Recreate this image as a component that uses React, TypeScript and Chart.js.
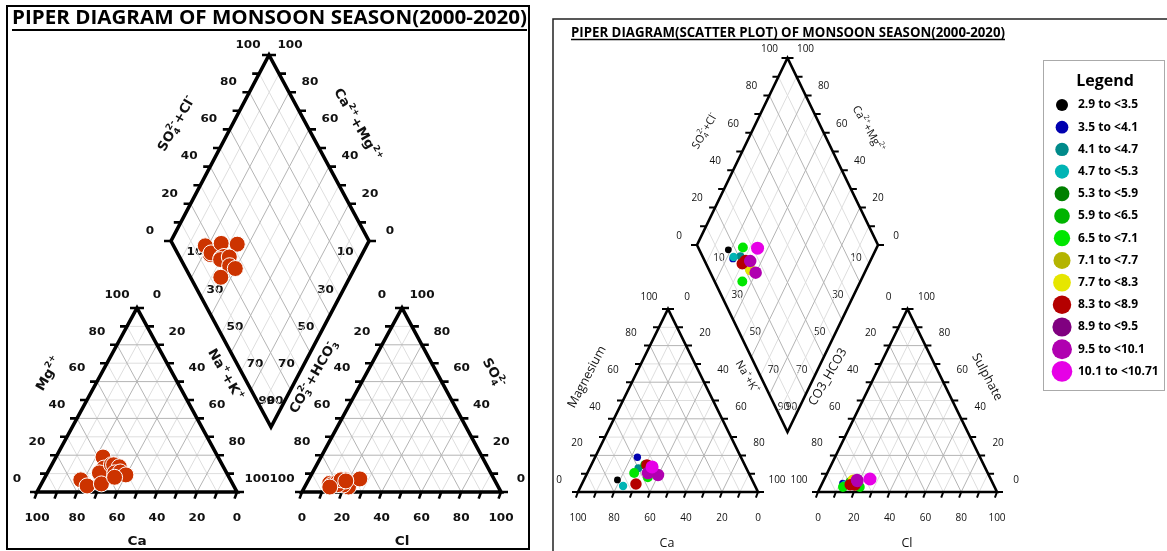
import React, { useEffect, useLayoutEffect, useRef } from "react";
import { Chart, registerables } from "chart.js";
Chart.register(...registerables);

const PAGE_W = 1167;
const PAGE_H = 551;

// ---------------- data ----------------
const legendLabels = [
  "2.9 to <3.5", "3.5 to <4.1", "4.1 to <4.7", "4.7 to <5.3", "5.3 to <5.9",
  "5.9 to <6.5", "6.5 to <7.1", "7.1 to <7.7", "7.7 to <8.3", "8.3 to <8.9",
  "8.9 to <9.5", "9.5 to <10.1", "10.1 to <10.71",
];
const legendColors = [
  "#000000", "#0000b0", "#008a8a", "#00b4b4", "#008000",
  "#00b400", "#00e600", "#b4b400", "#e6e600", "#b40000",
  "#800080", "#b000b0", "#e600e6",
];
// per-sample (% meq) values
const sampleCategory = [0, 1, 2, 3, 6, 5, 9, 9, 12, 11, 8, 11, 6];
const sampleCa = [74.8, 57.5, 60.0, 73.3, 63.6, 55.4, 54.3, 65.6, 52.0, 55.9, 52.9, 50.9, 57.2];
const sampleMg = [6.6, 19.0, 13.0, 3.3, 10.4, 14.8, 14.8, 4.4, 13.7, 10.4, 10.9, 9.3, 8.0];
const sampleCl = [12.0, 11.5, 16.0, 13.0, 22.0, 15.2, 18.8, 16.0, 25.5, 18.5, 16.3, 19.0, 12.6];
const sampleSO4 = [4.0, 4.7, 5.0, 4.0, 2.7, 5.5, 3.8, 4.0, 7.1, 6.6, 6.6, 6.0, 2.7];

const triTickValues = [0, 20, 40, 60, 80, 100];
const diamondEdgeTicks = [0, 20, 40, 60, 80, 100];
const diamondInnerTicks = [10, 30, 50, 70, 90];

const leftTitle = "PIPER DIAGRAM OF MONSOON SEASON(2000-2020)";
const rightTitle = "PIPER DIAGRAM(SCATTER PLOT) OF MONSOON SEASON(2000-2020)";
const legendTitle = "Legend";
const leftPointColor = "#cc3300";

// ---------------- text runs ----------------
type Run = string[];
const RUNS_SO4CL: Run[] = [["n", "SO"], ["ss", "4", "2-"], ["n", "+Cl"], ["sup", "-"]];
const RUNS_CAMG: Run[] = [["n", "Ca"], ["sup", "2+"], ["n", "+Mg"], ["sup", "2+"]];
const RUNS_NAK: Run[] = [["n", "Na"], ["sup", "+"], ["n", "+K"], ["sup", "+"]];
const RUNS_CO3: Run[] = [["n", "CO"], ["ss", "3", "2-"], ["n", "+HCO"], ["ss", "3", "-"]];
const RUNS_MG: Run[] = [["n", "Mg"], ["sup", "2+"]];
const RUNS_SO4: Run[] = [["n", "SO"], ["ss", "4", "2-"]];
const plain = (s: string): Run[] => [["n", s]];

type Pt = [number, number];
type Tri = { bl: Pt; br: Pt; top: Pt };
type Dia = { L: Pt; T: Pt; R: Pt };
type Font = { size: number; weight: string; family: string; sx: number; color: string };

interface Panel {
  cat: Tri;
  an: Tri;
  dia: Dia;
  borderW: number;
  tickW: number;
  tickLen: number;
  num: Font;
  axis: Font;
  axisSmall: Font;
  sideOff: Pt;
  bottomOff: number;
  diaOff: Pt;
  innerOff: Pt;
  titles: { runs: Run[]; x: number; y: number; ang: number; small?: boolean }[];
}

const LEFT: Panel = {
  cat: { bl: [37, 492], br: [237, 492], top: [137, 308] },
  an: { bl: [302, 492], br: [501, 492], top: [402, 308] },
  dia: { L: [171, 241], T: [269, 55], R: [369, 241] },
  borderW: 3.6,
  tickW: 2.6,
  tickLen: 7,
  num: { size: 10.5, weight: "bold", family: '"DejaVu Sans"', sx: 1.15, color: "#111" },
  axis: { size: 13, weight: "bold", family: '"DejaVu Sans"', sx: 1.05, color: "#111" },
  axisSmall: { size: 13, weight: "bold", family: '"DejaVu Sans"', sx: 1.05, color: "#111" },
  sideOff: [20, -13],
  bottomOff: 26,
  diaOff: [21, -10],
  innerOff: [14, -7],
  titles: [
    { runs: RUNS_SO4CL, x: 177, y: 124, ang: -60 },
    { runs: RUNS_CAMG, x: 357, y: 125, ang: 60 },
    { runs: RUNS_NAK, x: 225, y: 375, ang: 60 },
    { runs: RUNS_CO3, x: 314, y: 377, ang: -60 },
    { runs: RUNS_MG, x: 49, y: 374, ang: -60 },
    { runs: RUNS_SO4, x: 493, y: 373, ang: 60 },
    { runs: plain("Ca"), x: 137, y: 542, ang: 0 },
    { runs: plain("Cl"), x: 402, y: 542, ang: 0 },
  ],
};

const RIGHT: Panel = {
  cat: { bl: [578, 492], br: [758, 492], top: [668, 309] },
  an: { bl: [818, 492], br: [997, 492], top: [907.5, 309] },
  dia: { L: [697, 245], T: [787.5, 58], R: [878, 245] },
  borderW: 2.6,
  tickW: 2,
  tickLen: 6,
  num: { size: 10, weight: "normal", family: '"Open Sans"', sx: 1, color: "#111" },
  axis: { size: 12.5, weight: "normal", family: '"Open Sans"', sx: 1, color: "#111" },
  axisSmall: { size: 11, weight: "normal", family: '"Open Sans"', sx: 1, color: "#111" },
  sideOff: [19, -12],
  bottomOff: 26,
  diaOff: [18, -9],
  innerOff: [13, -6],
  titles: [
    { runs: RUNS_SO4CL, x: 705, y: 131, ang: -60, small: true },
    { runs: RUNS_CAMG, x: 868, y: 129, ang: 60, small: true },
    { runs: RUNS_NAK, x: 747, y: 377, ang: 60, small: true },
    { runs: plain("CO3_HCO3"), x: 828, y: 377, ang: -60 },
    { runs: plain("Magnesium"), x: 587, y: 377, ang: -62 },
    { runs: plain("Sulphate"), x: 987, y: 377, ang: 62 },
    { runs: plain("Ca"), x: 667, y: 543, ang: 0 },
    { runs: plain("Cl"), x: 907, y: 543, ang: 0 },
  ],
};

// ---------------- geometry ----------------
const tern = (t: Tri, wBL: number, wBR: number, wTop: number): Pt => [
  (t.bl[0] * wBL + t.br[0] * wBR + t.top[0] * wTop) / 100,
  (t.bl[1] * wBL + t.br[1] * wBR + t.top[1] * wTop) / 100,
];
const diaPt = (d: Dia, u: number, w: number): Pt => [
  d.L[0] + u * (d.T[0] - d.L[0]) + w * (d.R[0] - d.T[0]),
  d.L[1] + u * (d.T[1] - d.L[1]) + w * (d.R[1] - d.T[1]),
];
const diaB = (d: Dia): Pt => [d.L[0] + d.R[0] - d.T[0], d.L[1] + d.R[1] - d.T[1]];

type XY = { x: number | null; y: number | null };
const GAP: XY = { x: null, y: null };
const seg = (arr: XY[], a: Pt, b: Pt) => {
  arr.push({ x: a[0], y: a[1] }, { x: b[0], y: b[1] }, GAP);
};

function gridData(p: Panel, dark: boolean): XY[] {
  const out: XY[] = [];
  for (let i = 1; i <= 9; i++) {
    if ((i % 2 === 0) !== dark) continue;
    const f = i * 10;
    for (const t of [p.cat, p.an]) {
      seg(out, tern(t, 100 - f, 0, f), tern(t, 0, 100 - f, f));
      seg(out, tern(t, f, 0, 100 - f), tern(t, f, 100 - f, 0));
      seg(out, tern(t, 0, f, 100 - f), tern(t, 100 - f, f, 0));
    }
    seg(out, diaPt(p.dia, i / 10, 0), diaPt(p.dia, i / 10, 1));
    seg(out, diaPt(p.dia, 0, i / 10), diaPt(p.dia, 1, i / 10));
  }
  return out;
}

function outlineData(p: Panel): XY[] {
  const out: XY[] = [];
  for (const t of [p.cat, p.an]) {
    [t.bl, t.top, t.br, t.bl, t.top].forEach((q) => out.push({ x: q[0], y: q[1] }));
    out.push(GAP);
  }
  const d = p.dia;
  [d.L, d.T, d.R, diaB(d), d.L, d.T].forEach((q) => out.push({ x: q[0], y: q[1] }));
  out.push(GAP);
  return out;
}

function tickData(p: Panel): XY[] {
  const out: XY[] = [];
  const L = p.tickLen;
  for (let i = 0; i <= 10; i++) {
    const f = i * 10;
    for (const t of [p.cat, p.an]) {
      const a = tern(t, 100 - f, 0, f);
      seg(out, a, [a[0] - L, a[1]]);
      const b = tern(t, 0, 100 - f, f);
      seg(out, b, [b[0] + L, b[1]]);
      const c = tern(t, f, 100 - f, 0);
      seg(out, c, [c[0] - L * 0.35, c[1] + L * 0.95]);
    }
    const u = diaPt(p.dia, i / 10, 0);
    seg(out, u, [u[0] - L, u[1]]);
    const v = diaPt(p.dia, 1, i / 10);
    seg(out, v, [v[0] + L, v[1]]);
  }
  return out;
}

function samplePoints(p: Panel, idx: number[]): XY[] {
  const out: XY[] = [];
  idx.forEach((i) => {
    const ca = sampleCa[i], mg = sampleMg[i], nak = 100 - ca - mg;
    const cl = sampleCl[i], so4 = sampleSO4[i], hco3 = 100 - cl - so4;
    const a = tern(p.cat, ca, nak, mg);
    const b = tern(p.an, hco3, cl, so4);
    const c = diaPt(p.dia, (cl + so4) / 100, nak / 100);
    out.push({ x: a[0], y: a[1] }, { x: b[0], y: b[1] }, { x: c[0], y: c[1] });
  });
  return out;
}

function lineSet(data: XY[], color: string, width: number, order: number, cap = "butt") {
  return {
    type: "line",
    data,
    borderColor: color,
    borderWidth: width,
    pointRadius: 0,
    pointHoverRadius: 0,
    spanGaps: false,
    fill: false,
    tension: 0,
    borderCapStyle: cap,
    borderJoinStyle: "miter",
    clip: false,
    order,
  };
}

// ---------------- text drawing ----------------
function drawRuns(ctx: CanvasRenderingContext2D, runs: Run[], x: number, y: number, ang: number, font: Font) {
  const fs = font.size;
  const small = fs * 0.66;
  const f = (s: number) => `${font.weight} ${s}px ${font.family}`;
  const widths = runs.map((r) => {
    if (r[0] === "n") {
      ctx.font = f(fs);
      return ctx.measureText(r[1]).width;
    }
    ctx.font = f(small);
    if (r[0] === "ss") return Math.max(ctx.measureText(r[1]).width, ctx.measureText(r[2]).width);
    return ctx.measureText(r[1]).width;
  });
  const total = widths.reduce((s, w) => s + w, 0);
  ctx.save();
  ctx.translate(x, y);
  ctx.rotate((ang * Math.PI) / 180);
  ctx.scale(font.sx, 1);
  ctx.fillStyle = font.color;
  ctx.textBaseline = "middle";
  ctx.textAlign = "left";
  let cx = -total / 2;
  runs.forEach((r, i) => {
    if (r[0] === "n") {
      ctx.font = f(fs);
      ctx.fillText(r[1], cx, 0);
    } else if (r[0] === "sup") {
      ctx.font = f(small);
      ctx.fillText(r[1], cx, -fs * 0.38);
    } else {
      ctx.font = f(small);
      ctx.fillText(r[1], cx, fs * 0.32);
      ctx.fillText(r[2], cx, -fs * 0.38);
    }
    cx += widths[i];
  });
  ctx.restore();
}

function panelLabels(ctx: CanvasRenderingContext2D, p: Panel, X: (v: number) => number, Y: (v: number) => number) {
  const put = (q: Pt, dx: number, dy: number, txt: string) =>
    drawRuns(ctx, plain(txt), X(q[0] + dx), Y(q[1] + dy), 0, p.num);
  const [sx, sy] = p.sideOff;
  triTickValues.forEach((v) => {
    // cation: Mg left, Na+K right, Ca bottom
    put(tern(p.cat, 100 - v, 0, v), -sx, sy, String(v));
    put(tern(p.cat, 0, v, 100 - v), sx, sy, String(v));
    put(tern(p.cat, v, 100 - v, 0), 0, p.bottomOff, String(v));
    // anion: CO3+HCO3 left, SO4 right, Cl bottom
    put(tern(p.an, v, 0, 100 - v), -sx, sy, String(v));
    put(tern(p.an, 0, 100 - v, v), sx, sy, String(v));
    put(tern(p.an, 100 - v, v, 0), 0, p.bottomOff, String(v));
  });
  diamondEdgeTicks.forEach((v) => {
    put(diaPt(p.dia, v / 100, 0), -p.diaOff[0], p.diaOff[1], String(v));
    put(diaPt(p.dia, 1, 1 - v / 100), p.diaOff[0], p.diaOff[1], String(v));
  });
  diamondInnerTicks.forEach((v) => {
    put(diaPt(p.dia, 0, v / 100), p.innerOff[0], p.innerOff[1], String(v));
    put(diaPt(p.dia, 1 - v / 100, 1), -p.innerOff[0], p.innerOff[1], String(v));
  });
  p.titles.forEach((t) => drawRuns(ctx, t.runs, X(t.x), Y(t.y), t.ang, t.small ? p.axisSmall : p.axis));
}

function drawTitle(ctx: CanvasRenderingContext2D, text: string, cx: number, cy: number, size: number, target: number, ulY: number, ulW: number) {
  ctx.save();
  ctx.font = `bold ${size}px "Open Sans"`;
  const w = ctx.measureText(text).width;
  ctx.translate(cx, cy);
  ctx.scale(target / w, 1);
  ctx.fillStyle = "#000";
  ctx.textAlign = "center";
  ctx.textBaseline = "middle";
  ctx.fillText(text, 0, 0);
  ctx.restore();
  ctx.save();
  ctx.strokeStyle = "#000";
  ctx.lineWidth = ulW;
  ctx.beginPath();
  ctx.moveTo(cx - target / 2, ulY);
  ctx.lineTo(cx + target / 2, ulY);
  ctx.stroke();
  ctx.restore();
}

const decorPlugin = {
  id: "piperDecor",
  beforeDatasetsDraw(chart: any) {
    const ctx: CanvasRenderingContext2D = chart.ctx;
    const X = (v: number) => chart.scales.x.getPixelForValue(v);
    const Y = (v: number) => chart.scales.y.getPixelForValue(v);
    // panel frames
    ctx.save();
    ctx.strokeStyle = "#000";
    ctx.lineWidth = 2;
    ctx.strokeRect(X(7), Y(6), X(529) - X(7), Y(549) - Y(6));
    ctx.strokeStyle = "#222";
    ctx.lineWidth = 1.5;
    ctx.beginPath();
    ctx.moveTo(X(553), Y(552));
    ctx.lineTo(X(553), Y(19));
    ctx.lineTo(X(1168), Y(19));
    ctx.stroke();
    ctx.restore();
    panelLabels(ctx, LEFT, X, Y);
    panelLabels(ctx, RIGHT, X, Y);
    drawTitle(ctx, leftTitle, X(269.5), Y(19), 19, X(527) - X(12), Y(30), 2);
    drawTitle(ctx, rightTitle, X(788), Y(33), 14, X(1005) - X(571), Y(39.5), 1.5);
  },
  afterDatasetsDraw(chart: any) {
    const ctx: CanvasRenderingContext2D = chart.ctx;
    const X = (v: number) => chart.scales.x.getPixelForValue(v);
    const Y = (v: number) => chart.scales.y.getPixelForValue(v);
    ctx.save();
    ctx.fillStyle = "#fff";
    ctx.fillRect(X(1043.5), Y(60.5), X(1164.5) - X(1043.5), Y(390.5) - Y(60.5));
    ctx.strokeStyle = "#aaa";
    ctx.lineWidth = 1;
    ctx.strokeRect(X(1043.5), Y(60.5), X(1164.5) - X(1043.5), Y(390.5) - Y(60.5));
    ctx.fillStyle = "#000";
    ctx.textAlign = "center";
    ctx.textBaseline = "middle";
    ctx.font = 'bold 16px "Open Sans"';
    ctx.fillText(legendTitle, X(1105), Y(81));
    legendLabels.forEach((lab, i) => {
      const y = 105 + i * 22.2;
      ctx.beginPath();
      ctx.fillStyle = legendColors[i];
      ctx.arc(X(1062), Y(y), 6 + 0.36 * i, 0, Math.PI * 2);
      ctx.fill();
      ctx.fillStyle = "#000";
      ctx.textAlign = "left";
      ctx.font = 'bold 12px "Open Sans"';
      ctx.fillText(lab, X(1078), Y(y));
    });
    ctx.restore();
  },
};

export default function App() {
  const ref = useRef<HTMLCanvasElement | null>(null);
  useLayoutEffect(() => {
    const b = document.body.style;
    const prev = b.margin;
    b.margin = "0";
    document.documentElement.style.overflow = "hidden";
    return () => {
      b.margin = prev;
    };
  }, []);
  useEffect(() => {
    if (!ref.current) return;
    const allIdx = sampleCategory.map((_, i) => i);
    const datasets: any[] = [];
    // left panel points
    datasets.push({
      type: "scatter",
      data: samplePoints(LEFT, allIdx),
      pointRadius: 8,
      pointBackgroundColor: leftPointColor,
      pointBorderColor: "#ffffff",
      pointBorderWidth: 1,
      pointHoverRadius: 8,
      showLine: false,
      clip: false,
      order: 0,
    });
    // right panel points, one set per legend class
    legendLabels.forEach((_, c) => {
      const idx = allIdx.filter((i) => sampleCategory[i] === c);
      if (!idx.length) return;
      datasets.push({
        type: "scatter",
        data: samplePoints(RIGHT, idx),
        pointRadius: 3.4 + 0.26 * c,
        pointBackgroundColor: legendColors[c],
        pointBorderWidth: 0,
        pointHoverRadius: 3.4 + 0.26 * c,
        showLine: false,
        clip: false,
        order: 20 - c,
      });
    });
    for (const p of [LEFT, RIGHT]) {
      datasets.push(lineSet(tickData(p), "#000", p.tickW, 50));
      datasets.push(lineSet(outlineData(p), "#000", p.borderW, 60));
      datasets.push(lineSet(gridData(p, true), "#b4b4b4", 1, 70));
      datasets.push(lineSet(gridData(p, false), "#dedede", 1, 80));
    }
    const chart = new Chart(ref.current, {
      type: "scatter",
      data: { datasets },
      options: {
        responsive: false,
        animation: false,
        events: [],
        layout: { padding: 0, autoPadding: false },
        plugins: { legend: { display: false }, tooltip: { enabled: false } },
        scales: {
          x: { type: "linear", min: 0, max: PAGE_W, display: false, offset: false },
          y: { type: "linear", min: 0, max: PAGE_H, reverse: true, display: false, offset: false },
        },
      },
      plugins: [decorPlugin],
    } as any);
    return () => chart.destroy();
  }, []);
  return (
    <div style={{ width: PAGE_W, height: PAGE_H, overflow: "hidden", background: "#fff" }}>
      <canvas ref={ref} width={PAGE_W} height={PAGE_H} style={{ display: "block", width: PAGE_W, height: PAGE_H }} />
    </div>
  );
}
